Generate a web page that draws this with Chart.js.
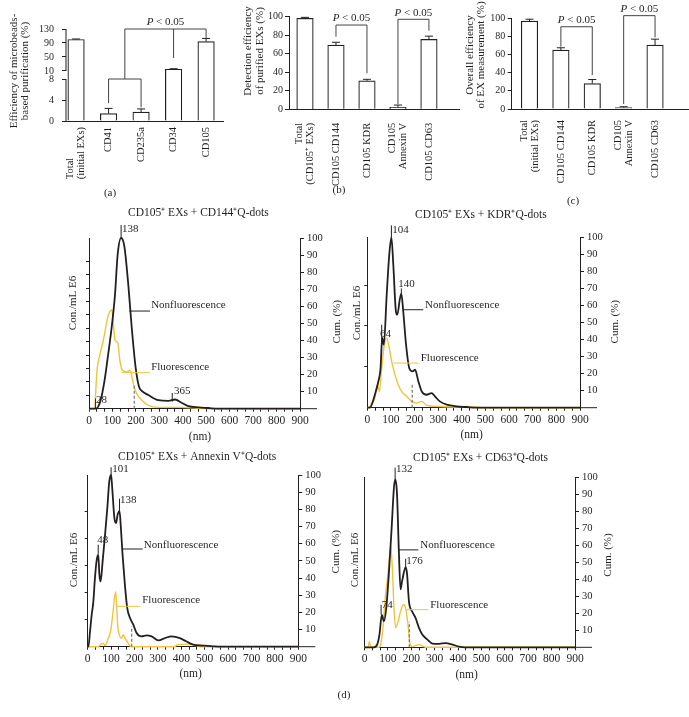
<!DOCTYPE html>
<html>
<head>
<meta charset="utf-8">
<title>EX purification and detection</title>
<script src="https://cdn.jsdelivr.net/npm/chart.js@4.4.1/dist/chart.umd.min.js"></script>
<style>
  body { margin: 0; background: #fff; }
  #page { position: relative; width: 689px; height: 717px; }
  #page canvas { position: absolute; left: 0; top: 0; }
</style>
</head>
<body>
<div id="page">
  <canvas id="chartA" width="689" height="717"></canvas>
  <canvas id="chartB" width="689" height="717"></canvas>
  <canvas id="chartC" width="689" height="717"></canvas>
  <canvas id="chartD1" width="689" height="717"></canvas>
  <canvas id="chartD2" width="689" height="717"></canvas>
  <canvas id="chartD3" width="689" height="717"></canvas>
  <canvas id="chartD4" width="689" height="717"></canvas>
</div>
<script>
// (a) efficiency of microbead-based purification (%)
var purifLabels = [["Total", "(initial EXs)"], ["CD41"], ["CD235a"], ["CD34"], ["CD105"]];
var purifMeans = [100, 1.4, 1.7, 15, 94];
var purifErrs = [1.5, 1.0, 0.6, 1.5, 9];
var purifTicks = [0, 4, 8, 10, 50, 90, 130];

// (b) detection efficiency of purified EXs (%)
var detectLabels = [["Total", "(CD105\u207A EXs)"], ["CD105 CD144"], ["CD105 KDR"], ["CD105", "Annexin V"], ["CD105 CD63"]];
var detectMeans = [98.3, 69.4, 30.8, 2.2, 75.5];
var detectErrs = [1, 3, 1.6, 2.4, 3.5];

// (c) overall efficiency of EX measurement (%)
var overallLabels = [["Total", "(initial EXs)"], ["CD105 CD144"], ["CD105 KDR"], ["CD105", "Annexin V"], ["CD105 CD63"]];
var overallMeans = [97, 65, 28, 1.5, 70.5];
var overallErrs = [2, 2.5, 4.5, 1, 6.5];

// (d) size distributions: size in nm, concentration as % of the highest peak
var cd144NonNm = [0, 30, 45, 55, 68, 80, 97, 111, 122, 137, 151, 168, 182, 199, 213, 225, 253, 296, 339, 367, 395, 424, 467, 509, 550, 900];
var cd144Non = [0, 0, 3, 8, 18, 30, 48, 67, 90, 100, 95, 72, 48, 24, 13, 10.5, 8, 5, 4.6, 5.4, 3.5, 1.5, 0.8, 0.4, 0, 0];
var cd144FluNm = [0, 24, 28, 33, 47, 61, 80, 97, 104, 111, 122, 132, 142, 161, 175, 189, 203, 225, 253, 296, 395, 467, 560, 900];
var cd144Flu = [0, 0, 8, 20.5, 32, 40, 53.5, 58, 49.6, 40, 39, 28, 22.5, 21.5, 22.5, 14.7, 9, 5, 2, 0.8, 0.8, 0.2, 0, 0];

var kdrNonNm = [0, 11, 32, 47, 56, 63, 70, 82, 93, 102, 110, 121, 127, 138, 144, 152, 164, 178, 192, 202, 216, 230, 251, 272, 286, 307, 336, 378, 420, 460, 900];
var kdrNon = [0, 0, 7.6, 15.5, 23, 41, 37, 66, 90, 100, 84, 56.6, 54.6, 64, 67, 56.6, 37, 23, 21.3, 22.3, 15.5, 9.6, 7.6, 8.6, 6.7, 3.7, 1.8, 0.8, 0.4, 0, 0];
var kdrFluNm = [0, 11, 18, 32, 42, 51, 61, 70, 82, 93, 103, 117, 131, 145, 166, 188, 209, 230, 251, 293, 364, 420, 449, 480, 900];
var kdrFlu = [0, 0.8, 2.7, 5.7, 13.5, 9.6, 23, 35, 41, 35, 27, 19.4, 13.5, 9.6, 6.7, 3.7, 2.7, 3.7, 1.4, 0.8, 0.4, 0.8, 0.4, 0, 0];

var annexNonNm = [0, 3, 10, 17, 24, 31, 38, 45, 50, 55, 64, 74, 84, 92, 100, 105, 114, 121, 128, 136, 141, 149, 159, 169, 181, 195, 209, 230, 252, 273, 302, 330, 358, 394, 422, 451, 494, 536, 570, 900];
var annexNon = [0, 0, 9, 18.6, 26, 40, 50, 53.6, 42, 38, 50, 65, 81, 96, 100, 92, 75, 72, 77, 79, 71, 53.6, 36, 22.5, 16.7, 12.8, 8, 6, 6.6, 6, 3.7, 5, 6, 5, 3, 1.2, 0.6, 0.2, 0, 0];
var annexFluNm = [0, 45, 53, 67, 74, 88, 98, 107, 119, 123, 128, 135, 144, 152, 159, 169, 181, 190, 370, 385, 422, 465, 480, 900];
var annexFlu = [0, 0, 1, 2, 0.6, 5, 9, 18.6, 32, 26, 12.8, 7, 5, 7, 5, 3, 0.4, 0, 0, 1.2, 1.5, 0.6, 0, 0];

var cd63NonNm = [0, 40, 54, 64, 74, 83, 93, 104, 116, 126, 132, 139, 147, 154, 161, 176, 182, 190, 204, 219, 233, 247, 269, 290, 319, 347, 376, 404, 430, 900];
var cd63Non = [0, 0, 1.6, 7.5, 19, 15.3, 23, 43, 70, 94, 98.6, 90, 56, 34, 39, 47, 43, 27, 21, 17, 11.4, 7.5, 4.5, 2.2, 2, 2.5, 1.6, 0.4, 0, 0];
var cd63FluNm = [0, 15, 21, 27, 60, 69, 79, 90, 99, 104, 112, 119, 126, 133, 144, 154, 166, 176, 186, 194, 204, 233, 261, 900];
var cd63Flu = [0, 0, 3.5, 0, 0, 1.6, 11.4, 31, 41, 48.6, 59.4, 46.7, 23, 11.4, 15.3, 21, 25, 23, 13.3, 2.5, 0.4, 1.6, 0, 0];

var cumTicks = [10, 20, 30, 40, 50, 60, 70, 80, 90, 100];

var FAM = "'Liberation Serif', 'Times New Roman', serif";
var INK = '#231f20';
var GOLD = '#f0c43c';
Chart.defaults.font.family = FAM;
Chart.defaults.color = INK;

function seg(ctx, x1, y1, x2, y2) {
  ctx.beginPath(); ctx.moveTo(x1, y1); ctx.lineTo(x2, y2); ctx.stroke();
}
function vText(ctx, txt, x, y, size) {
  ctx.save();
  ctx.translate(x, y); ctx.rotate(-Math.PI / 2);
  ctx.font = size + 'px ' + FAM; ctx.textAlign = 'center'; ctx.textBaseline = 'middle';
  ctx.fillText(txt, 0, 0);
  ctx.restore();
}
function hText(ctx, txt, x, y, size, align) {
  ctx.font = size + 'px ' + FAM; ctx.textAlign = align || 'center'; ctx.textBaseline = 'middle';
  ctx.fillText(txt, x, y);
}
function drawP(ctx, cx, cy) {
  ctx.font = 'italic 11px ' + FAM; var w1 = ctx.measureText('P').width;
  ctx.font = '11px ' + FAM; var w2 = ctx.measureText(' < 0.05').width;
  var x = cx - (w1 + w2) / 2;
  ctx.textAlign = 'left'; ctx.textBaseline = 'middle';
  ctx.font = 'italic 11px ' + FAM; ctx.fillText('P', x, cy);
  ctx.font = '11px ' + FAM; ctx.fillText(' < 0.05', x + w1, cy);
}

// y axis of (a) is broken between 8 and 10
var BRK_LO = 8, BRK_HI = 10, BRK_GAP = 1.524;
function brk(v) { return v <= BRK_LO ? v : BRK_LO + BRK_GAP + (v - BRK_HI) * BRK_LO / 120; }

function makeBarChart(id, o) {
  var tf = o.tf || function (v) { return v; };
  var extras = {
    id: 'extras_' + id,
    afterDraw: function (chart) {
      var ctx = chart.ctx, xs = chart.scales.x, ys = chart.scales.y, a = chart.chartArea;
      function X(v) { return xs.getPixelForValue(v); }
      function Y(v) { return ys.getPixelForValue(tf(v)); }
      ctx.save();
      ctx.strokeStyle = INK; ctx.fillStyle = INK; ctx.lineWidth = 1;
      if (o.broken) {
        seg(ctx, a.left, Y(0), a.left, Y(BRK_LO));
        seg(ctx, a.left, Y(BRK_HI), a.left, Y(o.top));
      }
      o.means.forEach(function (m, i) {
        var y1 = Y(m + o.errs[i]);
        seg(ctx, X(i), Y(m), X(i), y1);
        seg(ctx, X(i) - 4, y1, X(i) + 4, y1);
      });
      ctx.strokeStyle = '#444';
      o.brackets.forEach(function (b) { seg(ctx, X(b[0]), Y(b[1]), X(b[2]), Y(b[3])); });
      o.pMarks.forEach(function (p) { drawP(ctx, X(p[0]), Y(p[1]) - 6.5); });
      // rotated category labels
      ctx.font = '10.5px ' + FAM;
      o.labels.forEach(function (lines, i) {
        var w = Math.max.apply(null, lines.map(function (l) { return ctx.measureText(l).width; }));
        lines.forEach(function (l, j) {
          var cx = X(i) + (j - (lines.length - 1) / 2) * 11;
          ctx.save();
          ctx.translate(cx, a.bottom + o.labelGap); ctx.rotate(-Math.PI / 2);
          ctx.textBaseline = 'middle';
          if (o.labelAlign === 'start') { ctx.textAlign = 'left'; ctx.fillText(l, -w, 0); }
          else { ctx.textAlign = 'right'; ctx.fillText(l, 0, 0); }
          ctx.restore();
        });
      });
      o.titles.forEach(function (t) { vText(ctx, t[0], t[1], t[2], 11); });
      hText(ctx, o.letter[0], o.letter[1], o.letter[2], 11);
      ctx.restore();
    }
  };
  return new Chart(document.getElementById(id), {
    type: 'bar',
    data: {
      datasets: [{
        data: o.means.map(function (m, i) { return { x: i, y: tf(m) }; }),
        backgroundColor: '#fff', borderColor: INK, borderWidth: 1.2,
        barThickness: 16.5, borderSkipped: 'start'
      }]
    },
    options: {
      responsive: false, animation: false, events: [],
      layout: { padding: { left: o.area.left - 40, right: 689 - o.area.right, top: o.area.top, bottom: 717 - o.area.bottom - 10 } },
      plugins: { legend: { display: false }, tooltip: { enabled: false } },
      scales: {
        x: {
          type: 'linear', min: o.xMin, max: o.xMax, offset: false,
          afterFit: function (s) { s.height = 10; },
          ticks: { display: false }, grid: { display: false, offset: false },
          border: { display: true, color: INK, width: 1 }
        },
        y: {
          type: 'linear', min: 0, max: tf(o.top),
          afterFit: function (s) { s.width = 40; },
          afterBuildTicks: function (s) { s.ticks = o.ticks.map(function (v) { return { value: tf(v) }; }); },
          ticks: { font: { size: 10 }, padding: o.tickPad, callback: function (v, i) { return String(o.ticks[i]); } },
          grid: { drawOnChartArea: false, tickLength: 4, color: INK },
          border: { display: !o.broken, color: INK, width: 1 }
        }
      }
    },
    plugins: [extras]
  });
}

function makeDist(id, o) {
  function pts(nm, v) { return nm.map(function (x, i) { return { x: x, y: v[i] }; }); }
  var extras = {
    id: 'extras_' + id,
    afterDraw: function (chart) {
      var ctx = chart.ctx, xs = chart.scales.x, ys = chart.scales.y, a = chart.chartArea;
      function X(v) { return xs.getPixelForValue(v); }
      function Y(v) { return ys.getPixelForValue(v); }
      ctx.save();
      ctx.strokeStyle = INK; ctx.fillStyle = INK; ctx.lineWidth = 1;
      seg(ctx, a.right, a.bottom, a.right + 17, a.bottom);
      ctx.save();
      ctx.setLineDash([3, 2]); ctx.strokeStyle = '#777'; ctx.lineWidth = 1.2;
      seg(ctx, X(o.dash[0]), Y(0), X(o.dash[0]), Y(o.dash[1]));
      ctx.restore();
      o.peaks.forEach(function (p) {
        seg(ctx, X(p[0]), Y(p[1]), X(p[0]), Y(p[2]));
        hText(ctx, p[3], X(p[4]), Y(p[5]), 11, 'left');
      });
      o.leaders.forEach(function (l) {
        ctx.strokeStyle = l[0];
        seg(ctx, X(l[1]), Y(l[3]), X(l[2]), Y(l[3]));
        hText(ctx, l[4], X(l[5]), Y(l[6]), 11, 'left');
      });
      hText(ctx, o.title[0], o.title[1], o.title[2], 11.5, 'left');
      hText(ctx, '(nm)', o.nmPos[0], o.nmPos[1], 11.5);
      vText(ctx, 'Con./mL E6', o.conPos[0], o.conPos[1], 11);
      vText(ctx, 'Cum. (%)', o.cumPos[0], o.cumPos[1], 11);
      if (o.letter) hText(ctx, o.letter[0], o.letter[1], o.letter[2], 11);
      ctx.restore();
    }
  };
  return new Chart(document.getElementById(id), {
    type: 'line',
    data: {
      datasets: [
        { data: pts(o.nonNm, o.non), borderColor: INK, borderWidth: 1.8, pointRadius: 0, cubicInterpolationMode: 'monotone', yAxisID: 'y', clip: 6 },
        { data: pts(o.fluNm, o.flu), borderColor: GOLD, borderWidth: 1.4, pointRadius: 0, cubicInterpolationMode: 'monotone', yAxisID: 'y', clip: 6 }
      ]
    },
    options: {
      responsive: false, animation: false, events: [],
      layout: { padding: { left: o.area.left - 10, right: 689 - o.area.right - 30, top: o.area.top, bottom: 717 - o.area.bottom - 24 } },
      plugins: { legend: { display: false }, tooltip: { enabled: false } },
      scales: {
        x: {
          type: 'linear', min: 0, max: 900,
          afterFit: function (s) { s.height = 24; },
          afterBuildTicks: function (s) { var t = []; for (var k = 0; k <= 27; k++) t.push({ value: k * 100 / 3 }); s.ticks = t; },
          ticks: {
            autoSkip: false, maxRotation: 0, padding: 2, font: { size: 11.5 },
            callback: function (v) { var r = Math.round(v); return (Math.abs(v - r) < 1e-6 && r % 100 === 0) ? String(r) : ''; }
          },
          grid: { drawOnChartArea: false, tickLength: 3, color: INK },
          border: { color: INK, width: 1 }
        },
        y: {
          type: 'linear', position: 'left', min: 0, max: 100,
          afterFit: function (s) { s.width = 10; },
          afterBuildTicks: function (s) { var t = []; for (var k = 1; k <= o.leftCount; k++) t.push({ value: k * o.leftStep }); s.ticks = t; },
          ticks: { display: false },
          grid: { drawOnChartArea: false, tickLength: 3, color: INK },
          border: { color: INK, width: 1 }
        },
        y2: {
          type: 'linear', position: 'right', min: 0, max: 100,
          afterFit: function (s) { s.width = 30; },
          afterBuildTicks: function (s) { s.ticks = cumTicks.map(function (v) { return { value: v }; }); },
          ticks: { padding: 3, font: { size: 10.5 } },
          grid: { drawOnChartArea: false, tickLength: 4, color: INK },
          border: { color: INK, width: 1 }
        }
      }
    },
    plugins: [extras]
  });
}

makeBarChart('chartA', {
  area: { left: 66, right: 223, top: 29, bottom: 121 },
  xMin: -0.31, xMax: 4.52, top: 130, tf: brk, broken: true,
  ticks: purifTicks, tickPad: 8,
  means: purifMeans, errs: purifErrs, labels: purifLabels, labelGap: 6, labelAlign: 'start',
  brackets: [[1, 3.4, 1, 8], [1, 8, 2, 8], [2, 2.6, 2, 8], [1.5, 8, 1.5, 130], [1.5, 130, 4, 130], [4, 130, 4, 104], [3, 130, 3, 47]],
  pMarks: [[2.75, 130]],
  titles: [['Efficiency of microbeads-', 14, 71], ['based purification (%)', 25, 71]],
  letter: ['(a)', 110, 193]
});

makeBarChart('chartB', {
  area: { left: 289, right: 459, top: 16.7, bottom: 109.3 },
  xMin: -0.516, xMax: 4.97, top: 100,
  ticks: [0, 20, 40, 60, 80, 100], tickPad: 2,
  means: detectMeans, errs: detectErrs, labels: detectLabels, labelGap: 13.5, labelAlign: 'end',
  brackets: [[1, 78.4, 1, 91], [1, 91, 2, 91], [2, 91, 2, 38.9], [3, 5.7, 3, 97.2], [3, 97.2, 4, 97.2], [4, 97.2, 4, 84.9]],
  pMarks: [[1.5, 91], [3.5, 97.2]],
  titles: [['Detection efficiency', 248, 51], ['of purified EXs (%)', 260, 51]],
  letter: ['(b)', 339, 190]
});

makeBarChart('chartC', {
  area: { left: 511.7, right: 688, top: 18.3, bottom: 109 },
  xMin: -0.567, xMax: 5.05, top: 100,
  ticks: [0, 20, 40, 60, 80, 100], tickPad: 2.5,
  means: overallMeans, errs: overallErrs, labels: overallLabels, labelGap: 11, labelAlign: 'end',
  brackets: [[1, 68.7, 1, 90.7], [1, 90.7, 2, 90.7], [2, 90.7, 2, 37.5], [3, 5.5, 3, 102.9], [3, 102.9, 4, 102.9], [4, 102.9, 4, 79]],
  pMarks: [[1.5, 90.7], [3.5, 102.9]],
  titles: [['Overall efficiency', 470, 55], ['of EX measurement (%)', 481, 55]],
  letter: ['(c)', 573, 201]
});

makeDist('chartD1', {
  area: { left: 89, right: 300, top: 238, bottom: 408.7 },
  nonNm: cd144NonNm, non: cd144Non, fluNm: cd144FluNm, flu: cd144Flu,
  leftStep: 7.85, leftCount: 11,
  peaks: [[137, 100, 107.6, '138', 141, 105.3], [28, 0, 6, '28', 30, 5], [355, 4.1, 9.2, '365', 363, 10.5]],
  leaders: [[INK, 172, 260, 57.2, 'Nonfluorescence', 265, 60.7], [GOLD, 139, 260, 21.1, 'Fluorescence', 265, 24.6]],
  dash: [193, 14.3],
  title: ['CD105\u207A EXs + CD144\u207AQ-dots', 128, 213],
  nmPos: [200, 436.7], conPos: [73.3, 303], cumPos: [336.7, 321.7]
});

makeDist('chartD2', {
  area: { left: 367.3, right: 580, top: 237.3, bottom: 407.7 },
  nonNm: kdrNonNm, non: kdrNon, fluNm: kdrFluNm, flu: kdrFlu,
  leftStep: 24, leftCount: 3,
  peaks: [[102, 100, 107, '104', 106, 104], [144, 67, 70, '140', 131, 72.5], [61, 37, 48.7, '64', 54, 43.3]],
  leaders: [[INK, 152, 237, 57.5, 'Nonfluorescence', 244, 60], [GOLD, 110, 216, 26.2, 'Fluorescence', 226, 29.2]],
  dash: [190, 14.5],
  title: ['CD105\u207A EXs + KDR\u207AQ-dots', 415, 215],
  nmPos: [471.7, 435], conPos: [356.7, 313], cumPos: [615, 321.7]
});

makeDist('chartD3', {
  area: { left: 87.7, right: 298.3, top: 475, bottom: 646.7 },
  nonNm: annexNonNm, non: annexNon, fluNm: annexFluNm, flu: annexFlu,
  leftStep: 15.7, leftCount: 5,
  peaks: [[100, 100, 104.5, '101', 105, 103.5], [136, 79, 86.2, '138', 138, 85.3], [45, 54, 59.4, '48', 41, 62.3]],
  leaders: [[INK, 148, 235, 56.9, 'Nonfluorescence', 240, 59.4], [GOLD, 124, 223, 23.5, 'Fluorescence', 233, 27.4]],
  dash: [188, 11.9],
  title: ['CD105\u207A EXs + Annexin V\u207AQ-dots', 118, 456.7],
  nmPos: [190.7, 674.3], conPos: [74, 560], cumPos: [336, 551.7]
});

makeDist('chartD4', {
  area: { left: 364.5, right: 575, top: 477, bottom: 647.3 },
  nonNm: cd63NonNm, non: cd63Non, fluNm: cd63FluNm, flu: cd63Flu,
  leftStep: 10, leftCount: 0,
  peaks: [[131, 98.6, 105.5, '132', 135, 104.9], [176, 47, 52, '176', 178, 50.6], [71, 19.2, 25, '74', 73.5, 25]],
  leaders: [[INK, 147, 230, 57.2, 'Nonfluorescence', 238.6, 60], [GOLD, 180, 273, 22.1, 'Fluorescence', 281, 25]],
  dash: [191.6, 15],
  title: ['CD105\u207A EXs + CD63\u207AQ-dots', 413, 458.3],
  nmPos: [466.7, 675], conPos: [355, 560], cumPos: [608.3, 555],
  letter: ['(d)', 344, 695]
});
</script>
</body>
</html>
